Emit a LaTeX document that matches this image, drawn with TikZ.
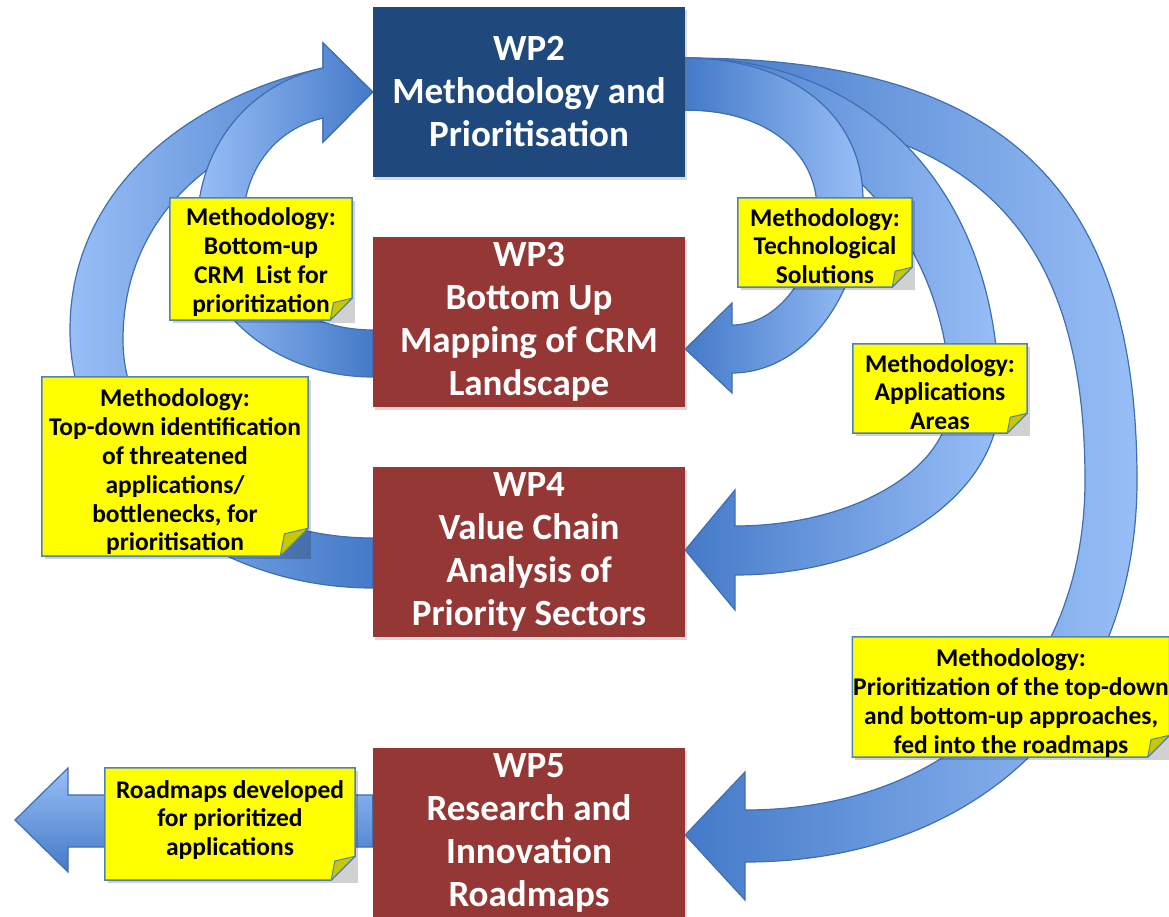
\documentclass[tikz,border=0pt]{standalone}
\usepackage{fontspec}
\setmainfont{Carlito}
\usetikzlibrary{shadows}

\definecolor{wpblue}{RGB}{31,73,125}
\definecolor{wpred}{RGB}{149,55,53}
\definecolor{arrdark}{RGB}{68,122,200}
\definecolor{arrlight}{RGB}{152,190,246}
\definecolor{arrline}{RGB}{62,110,180}
\definecolor{notefill}{RGB}{255,255,0}
\definecolor{noteline}{RGB}{79,129,189}
\definecolor{notefold}{RGB}{200,200,0}

\pgfdeclarelayer{arrowlayer}
\pgfdeclarelayer{notelayer}
\pgfsetlayers{arrowlayer,notelayer,main}

\newcommand{\boxfont}{\fontsize{37}{43}\selectfont\bfseries}
\newcommand{\notefont}{\fontsize{25.5}{28.8}\selectfont\bfseries}

% yellow sticky note behind a text node: #1 node, #2 fold size, #3 shift of the body
\newcommand{\notebody}[3]{%
\path ([yshift=#3pt]#1.north west) coordinate (#1-nw) ([yshift=#3pt]#1.south east) coordinate (#1-se);
\begin{pgfonlayer}{notelayer}
\fill[black,opacity=.18] ([shift={(3pt,-3pt)}]#1-nw) rectangle ([shift={(3pt,-3pt)}]#1-se);
\path[notebg] (#1-nw) -- (#1-nw -| #1-se) -- ([yshift=#2pt]#1-se)
  -- ([xshift=-#2pt]#1-se) -- (#1-nw |- #1-se) -- cycle;
\path[notecorner] ([yshift=#2pt]#1-se) -- ([shift={(-0.85*#2pt,0.8*#2pt)}]#1-se)
  -- ([xshift=-#2pt]#1-se) -- cycle;
\end{pgfonlayer}}

\tikzset{
  wpbox/.style={rectangle, minimum width=312pt, minimum height=170pt, inner sep=0pt,
    text=white, align=center, font=\boxfont,
    drop shadow={shadow xshift=2pt, shadow yshift=-3pt, opacity=.3}},
  note/.style={rectangle, inner sep=0pt, align=center, font=\notefont},
  notebg/.style={fill=notefill, draw=noteline, line width=1.5pt},
  notecorner/.style={fill=notefold, draw=noteline, line width=1pt, line join=round},
  arrowR/.style={left color=arrdark, right color=arrlight, draw=arrline, line width=1.2pt},
  arrowL/.style={left color=arrlight, right color=arrdark, draw=arrline, line width=1.2pt},
  arrowout/.style={top color=arrlight, bottom color=arrdark, draw=arrline, line width=1.2pt}
}

\begin{document}
\begin{tikzpicture}[x=1pt,y=-1pt]
\useasboundingbox (0,0) rectangle (1169,917);

% slide title, cut off at the top
\node[anchor=base east, text=wpred, font=\fontsize{60}{72}\selectfont\bfseries, inner sep=0pt] (title) at (306,-24) {gy};

% work packages
\node[wpbox, fill=wpblue] (wp2) at (529,92) {WP2\\Methodology and\\Prioritisation};
\node[wpbox, fill=wpred] (wp3) at (529,322) {WP3\\Bottom Up\\Mapping of CRM\\Landscape};
\node[wpbox, fill=wpred] (wp4) at (529,552) {WP4\\Value Chain\\Analysis of\\Priority Sectors};
\node[wpbox, fill=wpred] (wp5) at (529,833) {WP5\\Research and\\Innovation\\Roadmaps};

% notes
\node[note, minimum width=182pt, minimum height=122pt] (botup) at (261,262) {Methodology:\\Bottom-up\\CRM~ List for\\prioritization};
\node[note, minimum width=174pt, minimum height=89pt] (tech) at (825,246) {Methodology:\\Technological\\Solutions};
\node[note, minimum width=174pt, minimum height=89pt] (appl) at (940,392) {Methodology:\\Applications\\Areas};
\node[note, minimum width=266pt, minimum height=179pt] (topdn) at (175,472) {Methodology:\\Top-down identification\\of threatened\\applications/\\bottlenecks, for\\prioritisation};
\node[note, minimum width=317pt, minimum height=120pt] (prio) at (1011,703) {Methodology:\\Prioritization of the top-down\\and bottom-up approaches,\\fed into the roadmaps};
\node[note, minimum width=250pt, minimum height=112pt] (road) at (230,820) {Roadmaps developed\\for prioritized\\applications};

\notebody{botup}{22}{3}
\notebody{tech}{20}{3.5}
\notebody{appl}{20}{3.5}
\notebody{topdn}{28}{5.5}
\notebody{prio}{22}{6}
\notebody{road}{24}{-4}

% curved arrows
\begin{pgfonlayer}{arrowlayer}
% WP4 -> WP2
\path[arrowL] ([yshift=-36pt]wp4.west) .. controls (206,588) and (70,472) .. (70,330)
  .. controls (70,186) and (193,96) .. (323,68) -- (323,43) -- (wp2.west) -- (323,142) -- (323,118)
  .. controls (213,142) and (123,218) .. (123,340)
  .. controls (123,449) and (236,538) .. ([yshift=14pt]wp4.west) -- cycle;
% WP3 -> WP2
\path[arrowL] ([yshift=-55pt]wp3.west) .. controls (276,377) and (197,311) .. (197,230)
  .. controls (197,141) and (254,83) .. (323,68) -- (323,43) -- (wp2.west) -- (323,142) -- (323,118)
  .. controls (279,128) and (243,166) .. (243,225)
  .. controls (243,283) and (301,330) .. ([yshift=-8pt]wp3.west) -- cycle;
% WP2 -> WP5
\path[arrowR] ([yshift=34pt]wp2.east) .. controls (1001,58) and (1137,185) .. (1137,480)
  .. controls (1137,709) and (980,862) .. (745,862) -- (745,900) -- ([yshift=-2pt]wp5.east)
  -- (745,772) -- (745,810)
  .. controls (949,810) and (1085,678) .. (1085,480)
  .. controls (1085,221) and (965,110) .. ([yshift=-18pt]wp2.east) -- cycle;
% WP2 -> WP4
\path[arrowR] ([yshift=34pt]wp2.east) .. controls (873,58) and (999,195) .. (999,400)
  .. controls (999,496) and (880,575) .. (735,575) -- (735,610) -- ([yshift=2pt]wp4.east)
  -- (735,490) -- (735,526)
  .. controls (853,526) and (950,469) .. (950,400)
  .. controls (950,240) and (831,110) .. ([yshift=-18pt]wp2.east) -- cycle;
% WP2 -> WP3
\path[arrowR] ([yshift=34pt]wp2.east) .. controls (792,58) and (863,115) .. (863,200)
  .. controls (863,295) and (804,373) .. (732,373) -- (732,393) -- ([yshift=-27pt]wp3.east)
  -- (732,303) -- (732,325)
  .. controls (779,325) and (817,273) .. (817,210)
  .. controls (817,150) and (764,110) .. ([yshift=-18pt]wp2.east) -- cycle;
% WP5 -> out
\path[arrowout] ([yshift=38pt]wp5.west) -- (68,795) -- (68,768) -- (15,820) -- (68,872) -- (68,847)
  -- ([yshift=-14pt]wp5.west) -- cycle;
\end{pgfonlayer}
\end{tikzpicture}
\end{document}
